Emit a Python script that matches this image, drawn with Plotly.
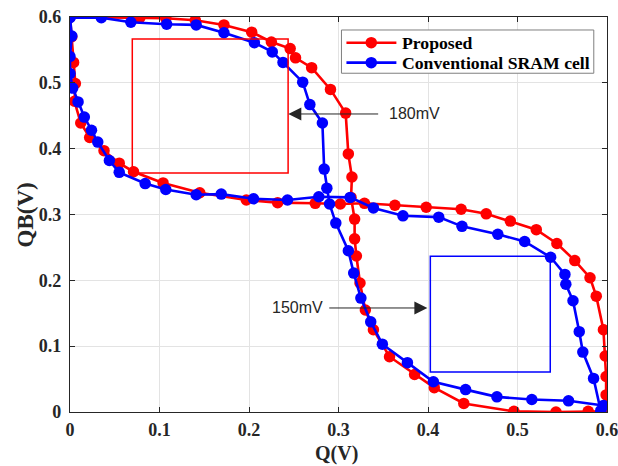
import plotly.graph_objects as go

# ---- data ----
prop_a_q = [0.000, 0.078, 0.107, 0.140, 0.172, 0.203, 0.225, 0.246, 0.252, 0.270, 0.291, 0.308,
            0.311, 0.315, 0.314, 0.318, 0.318, 0.320, 0.324, 0.330, 0.339, 0.357, 0.385, 0.407,
            0.440, 0.496, 0.543, 0.579, 0.600]
prop_a_qb = [0.600, 0.599, 0.598, 0.595, 0.588, 0.577, 0.562, 0.552, 0.538, 0.523, 0.490, 0.454,
             0.392, 0.357, 0.326, 0.293, 0.263, 0.237, 0.196, 0.155, 0.125, 0.084, 0.057, 0.037,
             0.013, 0.001, 0.000, 0.001, 0.001]

prop_b_q = [0.000, 0.002, 0.004, 0.006, 0.005, 0.012, 0.022, 0.038, 0.055, 0.071, 0.104, 0.145,
            0.197, 0.232, 0.274, 0.302, 0.329, 0.363, 0.398, 0.437, 0.465, 0.492, 0.521, 0.544,
            0.564, 0.581, 0.588, 0.596, 0.598, 0.599, 0.599, 0.600]
prop_b_qb = [0.600, 0.570, 0.531, 0.499, 0.472, 0.439, 0.417, 0.397, 0.378, 0.365, 0.348, 0.333,
             0.322, 0.318, 0.317, 0.316, 0.317, 0.314, 0.311, 0.308, 0.301, 0.290, 0.277, 0.256,
             0.230, 0.204, 0.176, 0.125, 0.085, 0.054, 0.026, 0.002]

conv_a_q = [0.000, 0.035, 0.068, 0.108, 0.141, 0.172, 0.206, 0.226, 0.238, 0.260, 0.268, 0.282,
            0.284, 0.287, 0.290, 0.297, 0.311, 0.317, 0.325, 0.336, 0.349, 0.377, 0.406, 0.442,
            0.477, 0.516, 0.557, 0.596]
conv_a_qb = [0.599, 0.599, 0.592, 0.589, 0.588, 0.576, 0.561, 0.547, 0.531, 0.501, 0.467, 0.439,
             0.369, 0.340, 0.316, 0.287, 0.245, 0.211, 0.173, 0.137, 0.103, 0.075, 0.046, 0.034,
             0.023, 0.019, 0.017, 0.010]

conv_b_q = [0.000, 0.002, 0.000, 0.000, 0.003, 0.009, 0.016, 0.024, 0.031, 0.044, 0.055, 0.084,
            0.107, 0.141, 0.169, 0.205, 0.243, 0.278, 0.313, 0.339, 0.372, 0.412, 0.438, 0.478,
            0.508, 0.537, 0.553, 0.554, 0.562, 0.569, 0.573, 0.585, 0.593]
conv_b_qb = [0.600, 0.571, 0.540, 0.514, 0.492, 0.471, 0.448, 0.428, 0.410, 0.382, 0.364, 0.347,
             0.338, 0.330, 0.331, 0.324, 0.322, 0.327, 0.326, 0.310, 0.298, 0.296, 0.282, 0.270,
             0.259, 0.235, 0.209, 0.194, 0.169, 0.122, 0.091, 0.051, 0.002]

series_names = ["Proposed", "Conventional SRAM cell"]
tick_vals = [0, 0.1, 0.2, 0.3, 0.4, 0.5, 0.6]
tick_text = ["0", "0.1", "0.2", "0.3", "0.4", "0.5", "0.6"]

red_box = [0.0696, 0.2437, 0.363, 0.5666]    # x0, x1, y0, y1
blue_box = [0.4026, 0.5366, 0.0608, 0.2364]
ann_labels = ["180mV", "150mV"]
x_title = "Q(V)"
y_title = "QB(V)"

RED = "#ff0000"
BLUE = "#0000ff"
DARK = "#262626"
serif = "Liberation Serif"

fig = go.Figure()

def add(q, qb, color, name):
    fig.add_trace(go.Scatter(
        x=q, y=qb, mode="lines+markers", name=name, showlegend=False,
        line=dict(color=color, width=2.6),
        marker=dict(color=color, size=11.5),
    ))

add(prop_a_q, prop_a_qb, RED, series_names[0])
add(prop_b_q, prop_b_qb, RED, series_names[0])
add(conv_a_q, conv_a_qb, BLUE, series_names[1])
add(conv_b_q, conv_b_qb, BLUE, series_names[1])

fig.add_shape(type="rect", xref="x", yref="y",
              x0=red_box[0], x1=red_box[1], y0=red_box[2], y1=red_box[3],
              line=dict(color=RED, width=1.5))
fig.add_shape(type="rect", xref="x", yref="y",
              x0=blue_box[0], x1=blue_box[1], y0=blue_box[2], y1=blue_box[3],
              line=dict(color=BLUE, width=1.5))

# 180mV arrow
fig.add_annotation(x=0.2439, y=0.4527, ax=0.346, ay=0.4527, xref="x", yref="y",
                   axref="x", ayref="y", text="", showarrow=True,
                   arrowhead=2, arrowsize=2.6, arrowwidth=1, arrowcolor=DARK)
fig.add_annotation(x=0.354, y=0.4527, xref="x", yref="y", text=ann_labels[0],
                   showarrow=False, xanchor="left", yanchor="middle",
                   font=dict(family="Liberation Sans", size=16, color=DARK))
# 150mV arrow
fig.add_annotation(x=0.3993, y=0.158, ax=0.288, ay=0.158, xref="x", yref="y",
                   axref="x", ayref="y", text="", showarrow=True,
                   arrowhead=2, arrowsize=2.6, arrowwidth=1, arrowcolor=DARK)
fig.add_annotation(x=0.2847, y=0.158, xref="x", yref="y", text=ann_labels[1],
                   showarrow=False, xanchor="right", yanchor="middle",
                   font=dict(family="Liberation Sans", size=16, color=DARK))

# axis titles
fig.add_annotation(x=0.497, y=-0.106, xref="paper", yref="paper", text="<b>" + x_title + "</b>",
                   showarrow=False, xanchor="center", yanchor="middle",
                   font=dict(family=serif, size=20, color=DARK))
fig.add_annotation(x=-0.082, y=0.5, xref="paper", yref="paper", text="<b>" + y_title + "</b>",
                   showarrow=False, xanchor="center", yanchor="middle", textangle=-90,
                   font=dict(family=serif, size=23, color=DARK))

# legend (drawn in paper coordinates)
lg_x0, lg_x1, lg_y0, lg_y1 = 0.5055, 0.9754, 0.8576, 0.9671
fig.add_shape(type="rect", xref="paper", yref="paper", x0=lg_x0, x1=lg_x1, y0=lg_y0, y1=lg_y1,
              line=dict(color="#7f7f7f", width=1), fillcolor="white", layer="above")
rows = [0.935, 0.8844]
for name, color, ry in zip(series_names, [RED, BLUE], rows):
    fig.add_shape(type="line", xref="paper", yref="paper", x0=0.5148, x1=0.6078, y0=ry, y1=ry,
                  line=dict(color=color, width=2.6), layer="above")
    fig.add_shape(type="circle", xref="paper", yref="paper", xsizemode="pixel", ysizemode="pixel",
                  xanchor=0.561, yanchor=ry, x0=-5.75, x1=5.75, y0=-5.75, y1=5.75,
                  fillcolor=color, line=dict(color=color, width=0), layer="above")
    fig.add_annotation(x=0.614, y=ry, xref="paper", yref="paper", text="<b>" + name + "</b>",
                       showarrow=False, xanchor="left", yanchor="middle",
                       font=dict(family=serif, size=17.7, color="#000000"))

axis_common = dict(
    range=[0, 0.6], tickvals=tick_vals, ticktext=tick_text,
    showgrid=True, gridcolor="#e3e3e3", gridwidth=1,
    showline=True, linecolor=DARK, linewidth=1.2, mirror="allticks",
    ticks="inside", ticklen=5, tickcolor=DARK, tickwidth=1,
    zeroline=False, ticklabeloverflow="allow",
    tickfont=dict(family=serif, size=18, color=DARK, weight="bold"),
)

fig.update_xaxes(**axis_common, ticklabelstandoff=1)
fig.update_yaxes(**axis_common, ticklabelstandoff=4)

fig.update_layout(
    width=618, height=466,
    margin=dict(l=70, r=11, t=17, b=54, autoexpand=False),
    paper_bgcolor="white", plot_bgcolor="white",
    showlegend=False,
)

fig.write_html("out.html")
